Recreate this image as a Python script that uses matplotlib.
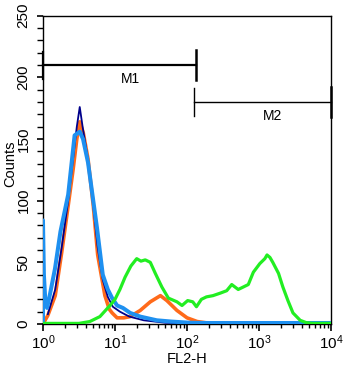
import matplotlib
matplotlib.use("Agg")
import matplotlib.pyplot as plt
from matplotlib.ticker import LogLocator, MultipleLocator, NullFormatter

plt.rcParams['font.family'] = ['Liberation Sans', 'DejaVu Sans']
plt.rcParams['mathtext.fontset'] = 'custom'
plt.rcParams['mathtext.rm'] = 'Liberation Sans'
plt.rcParams['mathtext.it'] = 'Liberation Sans'

# ---- data (FL2-H channel value, counts) ----
blue_x = [1, 1, 1.03, 1.08, 1.14, 1.26, 1.47, 1.75, 2.24, 2.75, 3.24, 3.6, 4.22,
          5.62, 6.76, 7.94, 9.12, 10.7, 12.9, 16.2, 22.4, 38, 60, 110, 200, 10000]
blue_y = [0, 84, 40, 18, 13, 25, 45, 75, 105, 153, 156, 150, 131,
          78, 40, 28, 21, 15, 13, 9, 6, 3, 2, 1, 0.8, 0.8]

navy_x = [1.17, 1.48, 1.82, 2.24, 2.63, 2.95, 3.24, 3.55, 4.22, 5.01, 5.75,
          6.76, 7.94, 9.33, 11.7, 15.8, 25.1, 50.1, 100]
navy_y = [8, 28, 62, 100, 135, 160, 176, 160, 133, 95, 62,
          36, 22, 14, 10, 6, 3, 1, 0.5]

orange_x = [1.0, 1.17, 1.48, 1.82, 2.24, 2.63, 2.95, 3.24, 3.63, 4.22, 5.01, 5.75,
            7.24, 8.32, 9.12, 10.7, 13.2, 16.2, 22.4, 30.9, 42.7, 52.5, 72.4,
            100, 138, 209, 316]
orange_y = [0, 7, 23, 58, 96, 126, 150, 164, 155, 134, 95, 56,
            23, 12, 9, 5, 5, 6, 11, 18, 23, 19, 11,
            5, 2, 0.5, 0.5]

green_x = [1.0, 3.16, 4.47, 6.17, 8.51, 10, 11.7, 13.8, 16.6, 20.0, 22.9, 26.3,
           30.9, 36.3, 44.7, 55.0, 72.4, 85.1, 102, 120, 135, 158, 186, 229,
           288, 355, 417, 513, 603, 708, 832, 1023, 1202, 1288, 1413, 1549,
           1862, 2138, 2512, 2951, 3715, 4571, 5623, 10000]
green_y = [0.5, 0.5, 2, 6, 15, 20, 28, 38, 47, 53, 51, 52,
           50, 41, 30, 21, 18, 15, 19, 18, 14, 20, 22, 23,
           25, 27, 32, 28, 30, 32, 42, 49, 53, 56, 54, 50,
           41, 30, 19, 9, 3, 1, 0.5, 0.5]

# gates: (start, end, level, label)
m1 = (1.0, 133, 210, "M1")
m2 = (126, 10000, 180, "M2")

fig = plt.figure(figsize=(3.58, 3.75), dpi=100)
ax = fig.add_axes([0.120, 0.136, 0.805, 0.822])

ax.plot(orange_x, orange_y, color='#FF6A1A', lw=2.6, zorder=3)
ax.plot(navy_x, navy_y, color='#00008B', lw=1.3, zorder=4)
ax.plot(blue_x, blue_y, color='#1E90F0', lw=2.9, zorder=5)
ax.plot(green_x, green_y, color='#22EE22', lw=2.3, zorder=6)

# gate markers
for (x0, x1, lvl, lab), lw, lwbar, (lx, ly) in [
        (m1, 1.6, 1.6, (16.2, 199)), (m2, 1.0, 1.0, (1550, 169))]:
    ax.plot([x0, x1], [lvl, lvl], color='black', lw=lw, clip_on=False, zorder=7)
    ax.plot([x0, x0], [lvl - 11, lvl + 11], color='black', lw=lwbar,
            clip_on=False, zorder=7)
    ax.plot([x1, x1], [lvl - 12, lvl + 12], color='black', lw=1.8,
            clip_on=False, zorder=7)
    ax.text(lx, ly, lab, ha='center', va='center', fontsize=10)

ax.set_xscale('log')
ax.set_xlim(1, 10000)
ax.set_ylim(0, 250)
ax.xaxis.set_major_locator(LogLocator(base=10, numticks=10))
ax.xaxis.set_minor_locator(LogLocator(base=10, subs=range(2, 10), numticks=50))
ax.xaxis.set_minor_formatter(NullFormatter())
ax.yaxis.set_major_locator(MultipleLocator(50))
ax.yaxis.set_minor_locator(MultipleLocator(10))

ax.tick_params(axis='both', which='major', direction='out', width=1.2,
               color='black')
ax.tick_params(axis='x', which='major', length=5, pad=2, labelsize=11)
ax.tick_params(axis='x', which='minor', length=3, width=1.0)
ax.tick_params(axis='y', which='major', length=4, pad=5, labelsize=11)
ax.tick_params(axis='y', which='minor', length=4, width=1.0)
for lbl in ax.get_yticklabels():
    lbl.set_rotation(90)
    lbl.set_va('center')
for s in ax.spines.values():
    s.set_linewidth(1.0)

ax.set_xlabel('FL2-H', fontsize=10.5, labelpad=0)
ax.set_ylabel('Counts', fontsize=10.5)
ax.yaxis.label.set_va('center')
ax.yaxis.set_label_coords(-0.112, 0.52)

fig.savefig('out.png', dpi=100)
